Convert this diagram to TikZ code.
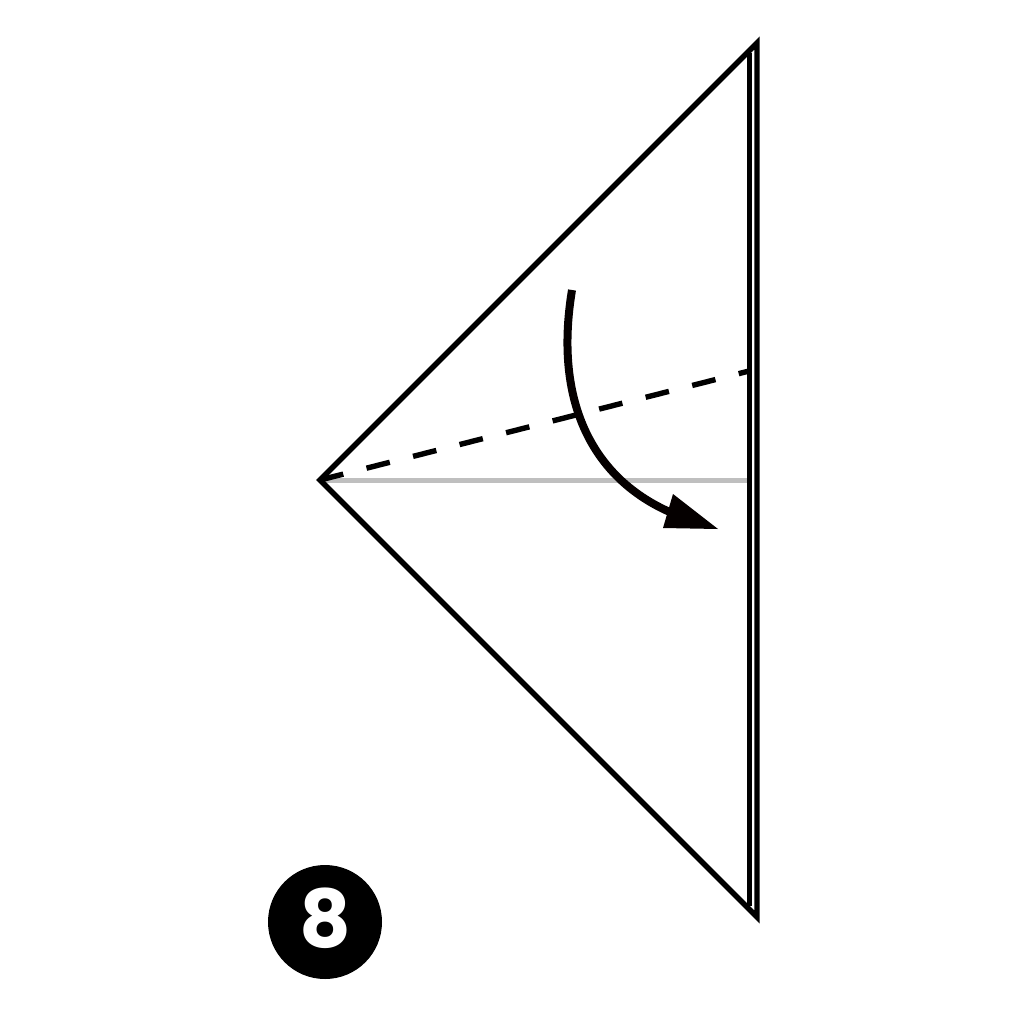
\documentclass[tikz,border=0pt]{standalone}
\usepackage{fontspec}
\newfontfamily\numfont{Poppins}
\usetikzlibrary{arrows.meta}
\begin{document}
\begin{tikzpicture}[x=1pt,y=-1pt,
  edge/.style={line width=5.4pt,black,line join=miter},
  foldline/.style={line width=5.4pt,black,dash pattern=on 24pt off 24pt},
  midline/.style={line width=5pt,black!25},
  movearrow/.style={line width=8pt,black!90!red!20!black,line cap=butt},
  badge/.style={circle,fill=black,minimum size=114pt,inner sep=0pt}]
\useasboundingbox (0,0) rectangle (1024,1024);
\coordinate (L) at (320,480);
\coordinate (T) at (757,43);
\coordinate (B) at (757,917);
\coordinate (IT) at (749.2,53);
\coordinate (IB) at (749.2,906);
\coordinate (D) at (749.2,371);
\coordinate (G) at (747,480);
\coordinate (AS) at (572,290);
\coordinate (AE) at (672,513);
\coordinate (H1) at (673,494);
\coordinate (H2) at (718,529);
\coordinate (H3) at (663,528);
% gray centre line
\draw[midline] (L) -- (G);
% dashed fold line
\draw[foldline] (L) -- (D);
% outline
\draw[edge] (IT) -- (IB);
\draw[edge] (B) -- (L) -- (T) -- cycle;
% fold arrow
\draw[movearrow] (AS) .. controls (553,405) and (595,480) .. (AE);
\fill[black!90!red!20!black] (H1) -- (H2) -- (H3) -- cycle;
% step number
\node[badge] (num) at (325,922) {};
\node[text=white,font=\numfont\bfseries\fontsize{80}{80}\selectfont,inner sep=0pt] (eight) at (325,918) {8};
\end{tikzpicture}
\end{document}
